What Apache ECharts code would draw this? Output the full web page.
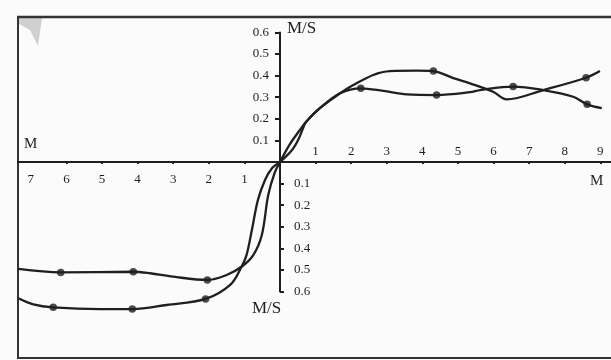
<!DOCTYPE html>
<html>
<head>
<meta charset="utf-8">
<script src="https://cdn.jsdelivr.net/npm/echarts@6/dist/echarts.min.js"></script>
<style>
html,body{margin:0;padding:0;background:#fbfbfb;}
#c{width:611px;height:360px;}
</style>
</head>
<body>
<div id="c"></div>
<script>
// ---- data ----
const leftTickLabels = [-7, -6, -5, -4, -3, -2, -1];
const rightTickLabels = [1, 2, 3, 4, 5, 6, 7, 8, 9];
const xTicks = [-6, -5, -4, -3, -2, -1, 1, 2, 3, 4, 5, 6, 7, 8, 9];
const yUpperTicks = [0.1, 0.2, 0.3, 0.4, 0.5, 0.6];
const yLowerTicks = [-0.1, -0.2, -0.3, -0.4, -0.5, -0.6];

const curveA = [[-7.35,-0.495],[-6.16,-0.511],[-4.12,-0.508],[-3.65,-0.515],[-3.0,-0.531],[-2.04,-0.546],
  [-1.50,-0.523],[-1.08,-0.485],[-0.75,-0.431],[-0.51,-0.338],[-0.33,-0.153],[-0.15,-0.05],[0,0],
  [0.28,0.083],[0.56,0.148],[0.73,0.185],[1.12,0.249],[1.69,0.318],[2.06,0.356],[2.62,0.403],[3.09,0.421],
  [3.84,0.423],[4.31,0.421],[4.87,0.388],[5.34,0.364],[5.99,0.325],[6.37,0.290],[7.40,0.333],[8.60,0.390],[8.99,0.421]];
const curveB = [[-7.35,-0.631],[-6.93,-0.659],[-6.37,-0.673],[-5.06,-0.681],[-4.15,-0.681],[-3.18,-0.662],
  [-2.09,-0.634],[-1.40,-0.569],[-1.08,-0.485],[-0.94,-0.431],[-0.79,-0.315],[-0.62,-0.176],[-0.42,-0.083],
  [-0.22,-0.028],[0,0],[0.34,0.056],[0.51,0.102],[0.65,0.157],[0.73,0.185],[1.12,0.249],[1.69,0.318],
  [2.27,0.341],[2.90,0.329],[3.56,0.313],[4.40,0.310],[5.34,0.323],[5.62,0.333],[6.55,0.349],[7.40,0.333],
  [8.24,0.302],[8.63,0.267],[9.04,0.249]];
const dotsA = [[-6.16,-0.511],[-4.12,-0.508],[-2.04,-0.546],[4.31,0.421],[8.60,0.390]];
const dotsB = [[-6.37,-0.673],[-4.15,-0.681],[-2.09,-0.634],[2.27,0.341],[4.40,0.310],[6.55,0.349],[8.63,0.267]];

const INK = '#1f1f1f';
const FONT = 'Liberation Serif';

// layout: grid spans x from -7.36..9.30 and y from -0.6..0.6; axes moved to the origin by offsets
const GRID = {left: 18, top: 32.4, width: 593, height: 259.2};
const X_MIN = -7.36, X_MAX = 9.30, Y_MIN = -0.6, Y_MAX = 0.6;
const zeroFromLeft = GRID.width * (0 - X_MIN) / (X_MAX - X_MIN);
const zeroFromTop = GRID.height * (Y_MAX - 0) / (Y_MAX - Y_MIN);

const chart = echarts.init(document.getElementById('c'), null, {renderer: 'canvas'});
const baseX = {type: 'value', min: X_MIN, max: X_MAX, splitLine: {show: false}};
const baseY = {type: 'value', min: Y_MIN, max: Y_MAX, interval: 0.1, splitLine: {show: false}};
const labelStyle = {color: INK, fontFamily: FONT, fontSize: 13};
chart.setOption({
  animation: false,
  backgroundColor: '#fbfbfb',
  grid: {left: GRID.left, top: GRID.top, width: GRID.width, height: GRID.height,
    containLabel: false, outerBoundsMode: 'none'},
  xAxis: [
    Object.assign({}, baseX, {
      position: 'bottom', offset: -(GRID.height - zeroFromTop),
      axisLine: {show: true, onZero: false, lineStyle: {color: INK, width: 2}},
      axisTick: {show: true, customValues: xTicks, length: 2, lineStyle: {color: INK, width: 2}},
      axisLabel: Object.assign({show: true, customValues: leftTickLabels, margin: 11,
        formatter: v => String(Math.abs(v))}, labelStyle)
    }),
    Object.assign({}, baseX, {
      position: 'top', offset: -zeroFromTop,
      axisLine: {show: false, onZero: false},
      axisTick: {show: false},
      axisLabel: Object.assign({show: true, customValues: rightTickLabels, margin: 4,
        formatter: v => String(v)}, labelStyle)
    })
  ],
  yAxis: [
    Object.assign({}, baseY, {
      position: 'left', offset: -zeroFromLeft,
      axisLine: {show: true, onZero: false, lineStyle: {color: INK, width: 2}},
      axisTick: {show: true, customValues: yUpperTicks, length: 5, lineStyle: {color: INK, width: 2}},
      axisLabel: Object.assign({show: true, customValues: yUpperTicks, margin: 11,
        formatter: v => Math.abs(v).toFixed(1)}, labelStyle)
    }),
    Object.assign({}, baseY, {
      position: 'right', offset: -(GRID.width - zeroFromLeft),
      axisLine: {show: false, onZero: false},
      axisTick: {show: true, customValues: yLowerTicks, length: 4, lineStyle: {color: INK, width: 2}},
      axisLabel: Object.assign({show: true, customValues: yLowerTicks, margin: 14,
        formatter: v => Math.abs(v).toFixed(1)}, labelStyle)
    })
  ],
  series: [
    {type: 'line', data: curveA, smooth: 0.35, showSymbol: false, clip: false,
      lineStyle: {color: INK, width: 2.3}},
    {type: 'line', data: curveB, smooth: 0.35, showSymbol: false, clip: false,
      lineStyle: {color: INK, width: 2.3}},
    {type: 'scatter', data: dotsA, symbolSize: 7.5, clip: false, itemStyle: {color: INK}},
    {type: 'scatter', data: dotsB, symbolSize: 7.5, clip: false, itemStyle: {color: INK}}
  ],
  graphic: [
    {type: 'polygon', shape: {points: [[19,18],[42,18],[38,46],[30,30],[19,24]]},
      style: {fill: 'rgba(130,130,130,0.35)'}, silent: true},
    {type: 'line', shape: {x1: 17, y1: 17, x2: 611, y2: 17}, style: {stroke: '#333', lineWidth: 2.5}},
    {type: 'line', shape: {x1: 18, y1: 16, x2: 18, y2: 359}, style: {stroke: '#333', lineWidth: 2}},
    {type: 'line', shape: {x1: 17, y1: 358, x2: 611, y2: 358}, style: {stroke: '#333', lineWidth: 2}},
    {type: 'text', x: 287, y: 20, style: {text: 'M/S', fontFamily: FONT, fontSize: 17, fill: INK}},
    {type: 'text', x: 252, y: 300, style: {text: 'M/S', fontFamily: FONT, fontSize: 17, fill: INK}},
    {type: 'text', x: 24, y: 137, style: {text: 'M', fontFamily: FONT, fontSize: 15, fill: INK}},
    {type: 'text', x: 590, y: 174, style: {text: 'M', fontFamily: FONT, fontSize: 15, fill: INK}}
  ]
});
</script>
</body>
</html>
